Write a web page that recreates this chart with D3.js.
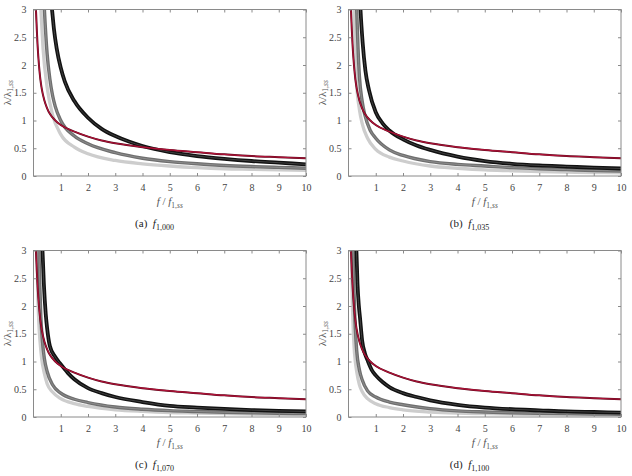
<!DOCTYPE html>
<html>
<head>
<meta charset="utf-8">
<script src="https://cdn.jsdelivr.net/npm/d3@7"></script>
<style>
  body { margin: 0; background: #fff; }
  svg text { font-family: "Liberation Serif", "DejaVu Serif", serif !important; }
</style>
</head>
<body>
<svg id="chart" width="632" height="476" font-family="Liberation Serif"></svg>
<script>
// tick labels
const xTicks = [1, 2, 3, 4, 5, 6, 7, 8, 9, 10];
const yTicks = [0, 0.5, 1, 1.5, 2, 2.5, 3];
const panelLetters = ["a", "b", "c", "d"];
const captionSubs = ["1,000", "1,035", "1,070", "1,100"];

// red reference curve (same in all panels), [f/f1ss, lambda/lambda1ss]
const redCurve = [[0.08, 3.1], [0.09, 3.0], [0.12, 2.65], [0.15, 2.35], [0.2, 2.0], [0.25, 1.75], [0.3, 1.58],
  [0.4, 1.36], [0.5, 1.22], [0.6, 1.12], [0.8, 1.0], [1, 0.92], [1.5, 0.8], [2, 0.71], [2.5, 0.64], [3, 0.59],
  [4, 0.52], [5, 0.47], [6, 0.43], [7, 0.39], [8, 0.36], [9, 0.34], [10, 0.32]];

// (a) f1,000
const lightA = [[0.26, 3.1], [0.27, 3.0], [0.35, 2.3], [0.5, 1.6], [0.7, 1.1], [1, 0.75], [1.5, 0.52], [2, 0.4],
  [3, 0.28], [4, 0.22], [5, 0.18], [6, 0.15], [7, 0.13], [8, 0.12], [9, 0.11], [10, 0.1]];
const midA = [[0.39, 3.1], [0.4, 3.0], [0.5, 2.2], [0.6, 1.75], [0.7, 1.45], [0.8, 1.25], [1, 1.0], [1.5, 0.72],
  [2, 0.58], [3, 0.42], [4, 0.32], [5, 0.26], [6, 0.22], [7, 0.19], [8, 0.17], [9, 0.155], [10, 0.14]];
const blackA = [[0.66, 3.1], [0.68, 3.0], [0.75, 2.65], [0.85, 2.3], [1, 1.95], [1.15, 1.7], [1.5, 1.35], [2, 1.05],
  [2.5, 0.85], [3, 0.72], [3.5, 0.62], [4, 0.54], [5, 0.43], [6, 0.36], [7, 0.31], [8, 0.27], [9, 0.24], [10, 0.21]];

// (b) f1,035
const lightB = [[0.19, 3.1], [0.2, 3.0], [0.25, 2.2], [0.3, 1.65], [0.4, 1.2], [0.5, 0.95], [0.7, 0.68], [1, 0.48],
  [1.5, 0.34], [2, 0.27], [3, 0.18], [4, 0.14], [5, 0.11], [6, 0.095], [7, 0.08], [8, 0.07], [9, 0.062], [10, 0.056]];
const midB = [[0.29, 3.1], [0.3, 3.0], [0.35, 2.3], [0.4, 1.8], [0.5, 1.35], [0.6, 1.1], [0.8, 0.82], [1, 0.68],
  [1.5, 0.47], [2, 0.37], [3, 0.26], [4, 0.21], [5, 0.18], [6, 0.15], [7, 0.13], [8, 0.115], [9, 0.1], [10, 0.09]];
const blackB = [[0.43, 3.1], [0.44, 3.0], [0.52, 2.4], [0.62, 1.9], [0.75, 1.55], [1, 1.15], [1.25, 0.95], [1.5, 0.82],
  [2, 0.66], [2.5, 0.55], [3, 0.47], [4, 0.35], [5, 0.27], [6, 0.22], [7, 0.19], [8, 0.17], [9, 0.15], [10, 0.135]];

// (c) f1,070
const lightC = [[0.125, 3.1], [0.13, 3.0], [0.15, 2.4], [0.2, 1.65], [0.25, 1.3], [0.3, 1.05], [0.4, 0.78], [0.5, 0.6],
  [0.7, 0.45], [1, 0.33], [1.5, 0.24], [2, 0.19], [3, 0.13], [4, 0.1], [5, 0.08], [6, 0.07], [7, 0.06], [8, 0.05],
  [9, 0.045], [10, 0.04]];
const midC = [[0.195, 3.1], [0.2, 3.0], [0.23, 2.4], [0.27, 1.8], [0.3, 1.55], [0.35, 1.25], [0.4, 1.05], [0.5, 0.82],
  [0.7, 0.58], [1, 0.43], [1.5, 0.32], [2, 0.26], [3, 0.18], [4, 0.14], [5, 0.115], [6, 0.1], [7, 0.085], [8, 0.075],
  [9, 0.068], [10, 0.06]];
const blackC = [[0.32, 3.1], [0.33, 3.0], [0.38, 2.4], [0.45, 1.85], [0.5, 1.6], [0.6, 1.28], [0.8, 1.08], [1, 0.95],
  [1.25, 0.8], [1.5, 0.68], [2, 0.52], [2.5, 0.43], [3, 0.36], [4, 0.27], [5, 0.2], [6, 0.17], [7, 0.145], [8, 0.125],
  [9, 0.11], [10, 0.1]];

// (d) f1,100
const lightD = [[0.105, 3.1], [0.11, 3.0], [0.13, 2.3], [0.15, 1.9], [0.2, 1.3], [0.25, 1.0], [0.3, 0.82], [0.4, 0.58],
  [0.5, 0.46], [0.7, 0.33], [1, 0.24], [1.5, 0.17], [2, 0.13], [3, 0.09], [4, 0.07], [5, 0.06], [6, 0.05], [7, 0.045],
  [8, 0.04], [9, 0.037], [10, 0.035]];
const midD = [[0.165, 3.1], [0.17, 3.0], [0.2, 2.3], [0.25, 1.6], [0.3, 1.2], [0.4, 0.85], [0.5, 0.67], [0.7, 0.47],
  [1, 0.36], [1.5, 0.27], [2, 0.22], [3, 0.15], [4, 0.11], [5, 0.09], [6, 0.075], [7, 0.065], [8, 0.06], [9, 0.055],
  [10, 0.05]];
const blackD = [[0.28, 3.1], [0.29, 3.0], [0.33, 2.4], [0.38, 2.0], [0.42, 1.8], [0.5, 1.38], [0.6, 1.15], [0.7, 1.02],
  [0.85, 0.85], [1, 0.75], [1.25, 0.63], [1.5, 0.54], [2, 0.43], [2.5, 0.36], [3, 0.3], [4, 0.22], [5, 0.17], [6, 0.14],
  [7, 0.12], [8, 0.1], [9, 0.09], [10, 0.08]];

const lightSets = [lightA, lightB, lightC, lightD];
const midSets = [midA, midB, midC, midD];
const blackSets = [blackA, blackB, blackC, blackD];

const svg = d3.select("#chart");
const panelW = 272.5, panelH = 166.5;
const origins = [[33.5, 9.5], [348.5, 9.5], [33.5, 250.5], [348.5, 250.5]];
const frameColor = "#8a8a8a";
const serif = "'Liberation Serif', 'DejaVu Serif', serif";

origins.forEach(([ox, oy], i) => {
  const g = svg.append("g").attr("transform", `translate(${ox},${oy})`);

  let x = d3.scaleLinear().domain([0, 10]).range([0, panelW]);
  let y = d3.scaleLinear().domain([0, 3]).range([panelH, 0]);

  g.append("clipPath").attr("id", "clip" + i)
    .append("rect").attr("width", panelW).attr("height", panelH);

  let line = d3.line()
    .x(d => x(d[0]))
    .y(d => y(d[1]))
    .curve(d3.curveMonotoneX);

  let curves = g.append("g").attr("clip-path", `url(#clip${i})`);

  // bundles: thick stroke plus a thin lighter stripe to mimic the several overlapping curves
  const bundle = (data, outer, inner, w) => {
    curves.append("path").attr("d", line(data))
      .attr("fill", "none").attr("stroke", outer).attr("stroke-width", w);
    if (inner) {
      curves.append("path").attr("d", line(data))
        .attr("fill", "none").attr("stroke", inner).attr("stroke-width", 0.7);
    }
  };
  bundle(lightSets[i], "#cdcdcd", null, 3.3);
  bundle(midSets[i], "#6f6f6f", "#9a9a9a", 3.4);
  bundle(blackSets[i], "#111", "#555", 3.8);

  curves.append("path").attr("d", line(redCurve))
    .attr("fill", "none").attr("stroke", "#5a0a1c").attr("stroke-width", 2);
  curves.append("path").attr("d", line(redCurve))
    .attr("fill", "none").attr("stroke", "#b01238").attr("stroke-width", 1.1);

  // axes with inward ticks on all four sides
  let xAxis = d3.axisBottom(x).tickValues(xTicks).tickSizeInner(-3).tickSizeOuter(0).tickPadding(8);
  let yAxis = d3.axisLeft(y).tickValues(yTicks).tickSizeInner(-3).tickSizeOuter(0).tickPadding(7)
    .tickFormat(d3.format("~g"));

  let gx = g.append("g").attr("transform", `translate(0,${panelH})`).call(xAxis);
  let gy = g.append("g").call(yAxis);
  g.append("g").call(d3.axisTop(x).tickValues(xTicks).tickSizeInner(-3).tickSizeOuter(0).tickFormat(""));
  g.append("g").attr("transform", `translate(${panelW},0)`)
    .call(d3.axisRight(y).tickValues(yTicks).tickSizeInner(-3).tickSizeOuter(0).tickFormat(""));

  g.selectAll(".domain").remove();
  g.selectAll(".tick line").attr("stroke", frameColor);
  g.selectAll("g").attr("font-family", serif);
  [gx, gy].forEach(a => a.selectAll("text").style("font-size", "10px").attr("fill", "#444"));

  g.append("rect").attr("width", panelW).attr("height", panelH)
    .attr("fill", "none").attr("stroke", frameColor).attr("stroke-width", 1);

  // x label
  let xl = g.append("text").attr("x", panelW / 2).attr("y", panelH + 29)
    .attr("text-anchor", "middle").style("font-size", "11px").attr("fill", "#555");
  xl.append("tspan").style("font-style", "italic").text("f");
  xl.append("tspan").text(" / ");
  xl.append("tspan").style("font-style", "italic").text("f");
  xl.append("tspan").attr("dy", 2.5).style("font-size", "7.5px").text("1,");
  xl.append("tspan").style("font-size", "7.5px").style("font-style", "italic").text("ss");

  // y label
  let yl = g.append("text").attr("transform", `translate(-23,${panelH / 2}) rotate(-90)`)
    .attr("text-anchor", "middle").style("font-size", "11px").attr("fill", "#555");
  yl.append("tspan").text("λ/λ");
  yl.append("tspan").attr("dy", 2.5).style("font-size", "7.5px").text("1,");
  yl.append("tspan").style("font-size", "7.5px").style("font-style", "italic").text("ss");

  // caption
  let cap = g.append("text").attr("x", 121).attr("y", panelH + 51)
    .attr("text-anchor", "middle").style("font-size", "11px").attr("fill", "#222");
  cap.append("tspan").text(`(${panelLetters[i]})\u2002`);
  cap.append("tspan").style("font-style", "italic").text("f");
  cap.append("tspan").attr("dy", 2.5).style("font-size", "8px").text(captionSubs[i]);
});
</script>
</body>
</html>
